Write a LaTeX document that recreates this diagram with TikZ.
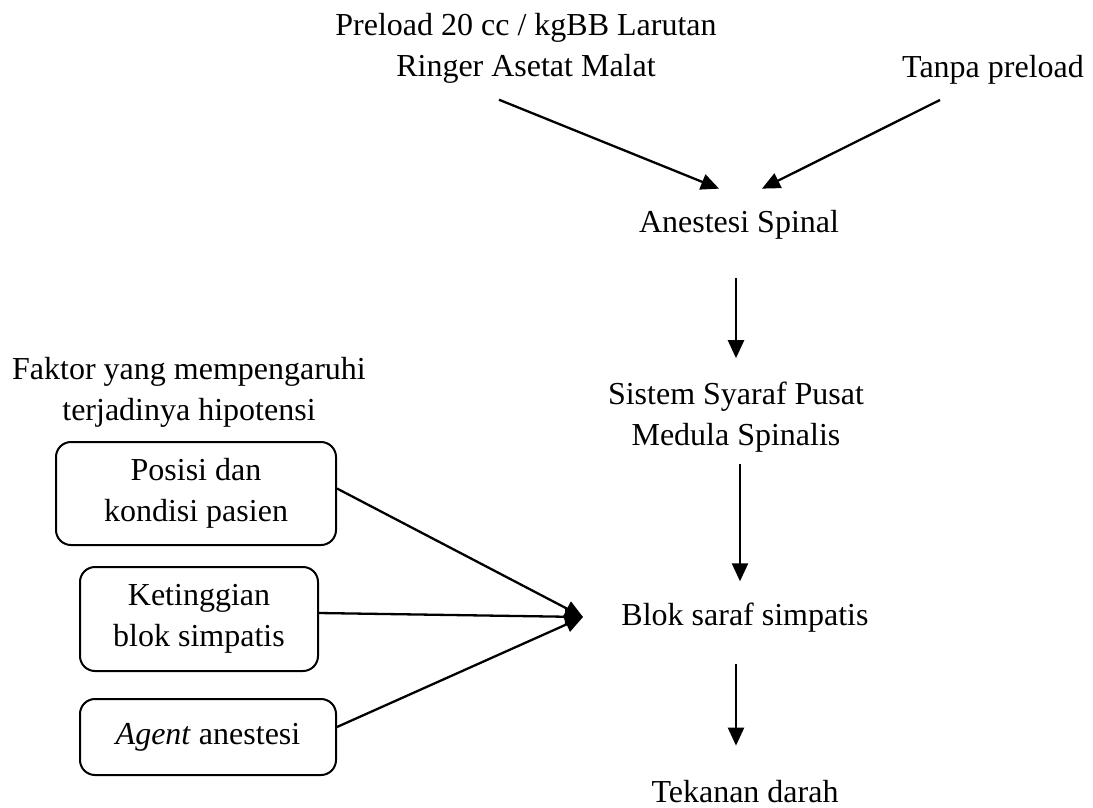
\documentclass[tikz,border=0pt]{standalone}
\usepackage{fontspec}
\setmainfont{Liberation Serif}
\usetikzlibrary{arrows.meta}
\tikzset{
  txt/.style={inner sep=0pt,align=center,font=\fontsize{32}{41}\selectfont},
  faktorbox/.style={txt,draw,line width=2pt,rounded corners=15pt}
}
\begin{document}
\begin{tikzpicture}[>={Triangle[length=18pt,width=16pt]},x=1pt,y=-1pt,line width=2.3pt]
		\useasboundingbox (0,0) rectangle (1093,807);
		\node[txt] (preload) at (526,48.5) {Preload 20 cc / kgBB Larutan\\Ringer Asetat Malat};
		\node[txt,anchor=base] (tanpa) at (993,77) {Tanpa preload};
		\node[txt,anchor=base] (anestesi) at (739,232) {Anestesi Spinal};
		\node[txt] (sistem) at (736,417.5) {Sistem Syaraf Pusat\\Medula Spinalis};
		\node[txt] (faktor) at (189,392.5) {Faktor yang mempengaruhi\\terjadinya hipotensi};
		\node[faktorbox,minimum width=280pt,minimum height=103pt] (posisi) at (196,493.5) {Posisi dan\\kondisi pasien};
		\node[faktorbox,minimum width=238pt,minimum height=104pt] (tinggi) at (199,619) {Ketinggian\\blok simpatis};
		\node[faktorbox,minimum width=256pt,minimum height=76pt] (agent) at (208,737) {\textit{Agent} anestesi};
		\node[txt,anchor=base] (blok) at (745,625) {Blok saraf simpatis};
		\node[txt,anchor=base] (tekanan) at (745,802) {Tekanan darah};
		\coordinate (hub) at (583,617);
		% arah panah
		\draw[->] ([xshift=-27pt,yshift=-15pt]preload.south) -- ([xshift=-20pt,yshift=20pt]anestesi.north);
		\draw[->] ([xshift=-53pt,yshift=-15pt]tanpa.south) -- ([xshift=23pt,yshift=20pt]anestesi.north);
		\draw[->] ([xshift=-3pt,yshift=-38pt]anestesi.south) -- ([yshift=23pt]sistem.north);
		\draw[->] ([xshift=4pt,yshift=-10pt]sistem.south) -- ([xshift=-5pt,yshift=20pt]blok.north);
		\draw[->] ([xshift=-9pt,yshift=-31pt]blok.south) -- ([xshift=-9pt,yshift=33pt]tekanan.north);
		\draw[->] ([yshift=5pt]posisi.east) -- (hub);
		\draw[->] ([yshift=6pt]tinggi.east) -- (hub);
		\draw[->] ([yshift=10pt]agent.east) -- (hub);
\end{tikzpicture}
\end{document}
